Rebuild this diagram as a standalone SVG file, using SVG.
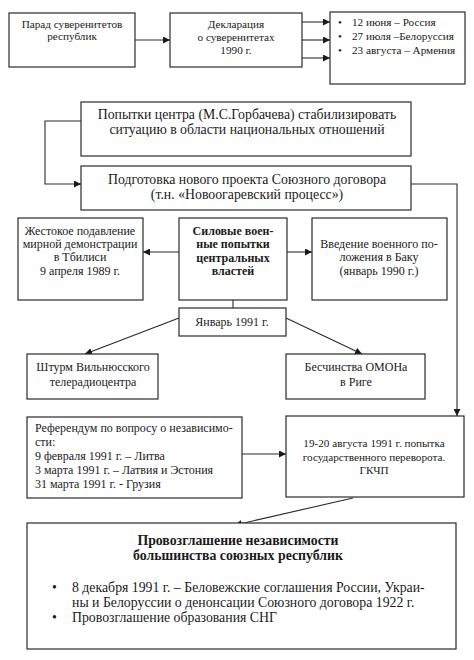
<svg xmlns="http://www.w3.org/2000/svg" width="474" height="660" viewBox="0 0 474 660" font-family="'Liberation Serif', 'Times New Roman', serif">
<defs>
<marker id="ah" viewBox="0 0 10 10" refX="10" refY="5" markerWidth="7" markerHeight="7" markerUnits="userSpaceOnUse" orient="auto">
<path d="M0,0 L10,5 L0,10 z" fill="#1a1a1a"/>
</marker>
<style>
.box{fill:#fff;stroke:#2a2a2a;stroke-width:1.2}
.t{font-family:'Liberation Serif','Times New Roman',serif;font-size:12px;fill:#1a1a1a}
.c{text-anchor:middle}
.b{font-weight:bold}
.s{font-size:11.2px}
.l{font-size:13.8px}
.con{fill:none;stroke:#2a2a2a;stroke-width:1.1}
</style>
</defs>
<rect width="474" height="660" fill="#fff"/>
<g id="connectors">
<line class="con" x1="135" y1="40" x2="170" y2="40" marker-end="url(#ah)"/>
<line class="con" x1="302" y1="22" x2="330" y2="22" marker-end="url(#ah)"/>
<line class="con" x1="302" y1="40" x2="330" y2="40" marker-end="url(#ah)"/>
<line class="con" x1="302" y1="58" x2="330" y2="58" marker-end="url(#ah)"/>
<polyline class="con" points="81,121 45,121 45,184 81,184" marker-end="url(#ah)"/>
<polyline class="con" points="411,184 457,184 457,416" marker-end="url(#ah)"/>
<line class="con" x1="179" y1="252" x2="143" y2="252" marker-end="url(#ah)"/>
<line class="con" x1="287" y1="252" x2="312" y2="252" marker-end="url(#ah)"/>
<line class="con" x1="233" y1="300" x2="233" y2="308"/>
<line class="con" x1="179" y1="318" x2="85" y2="354" marker-end="url(#ah)"/>
<line class="con" x1="286" y1="318" x2="362" y2="354" marker-end="url(#ah)"/>
<line class="con" x1="242" y1="454" x2="286" y2="454" marker-end="url(#ah)"/>
<line class="con" x1="353" y1="498" x2="235" y2="525" marker-end="url(#ah)"/>
</g>
<g id="parade">
<rect class="box" x="9" y="13" width="126" height="54"/>
<text class="t s c" x="72" y="28">Парад суверенитетов</text>
<text class="t s c" x="72" y="40">республик</text>
</g>
<g id="declaration">
<rect class="box" x="170" y="13" width="132" height="54"/>
<text class="t s c" x="236" y="28">Декларация</text>
<text class="t s c" x="236" y="41">о суверенитетах</text>
<text class="t s c" x="236" y="54">1990 г.</text>
</g>
<g id="dates">
<rect class="box" x="330" y="12" width="135" height="72"/>
<text class="t s" x="338" y="26">•</text><text class="t s" x="352" y="26">12 июня – Россия</text>
<text class="t s" x="338" y="40">•</text><text class="t s" x="352" y="40">27 июля –Белоруссия</text>
<text class="t s" x="338" y="54">•</text><text class="t s" x="352" y="54">23 августа – Армения</text>
</g>
<g id="attempts">
<rect class="box" x="81" y="102" width="330" height="54"/>
<text class="t c l" x="247" y="119">Попытки центра (М.С.Горбачева) стабилизировать</text>
<text class="t c l" x="247" y="134">ситуацию в области национальных отношений</text>
</g>
<g id="treaty">
<rect class="box" x="81" y="166" width="330" height="44"/>
<text class="t c l" x="247" y="184">Подготовка нового проекта Союзного договора</text>
<text class="t c l" x="247" y="199">(т.н. «Новоогаревский процесс»)</text>
</g>
<g id="tbilisi">
<rect class="box" x="18" y="218" width="125" height="82"/>
<text class="t c" x="80" y="235">Жестокое подавление</text>
<text class="t c" x="80" y="248">мирной демонстрации</text>
<text class="t c" x="80" y="261">в Тбилиси</text>
<text class="t c" x="80" y="275">9 апреля 1989 г.</text>
</g>
<g id="force">
<rect class="box" x="179" y="218" width="108" height="82"/>
<text class="t c b" x="233" y="235">Силовые воен-</text>
<text class="t c b" x="233" y="248">ные попытки</text>
<text class="t c b" x="233" y="262">центральных</text>
<text class="t c b" x="233" y="275">властей</text>
</g>
<g id="baku">
<rect class="box" x="312" y="218" width="135" height="82"/>
<text class="t c" x="379" y="248">Введение военного по-</text>
<text class="t c" x="379" y="261">ложения в Баку</text>
<text class="t c" x="379" y="275">(январь 1990 г.)</text>
</g>
<g id="jan1991">
<rect class="box" x="179" y="308" width="107" height="28"/>
<text class="t c" x="232" y="326">Январь 1991 г.</text>
</g>
<g id="vilnius">
<rect class="box" x="27" y="354" width="131" height="45"/>
<text class="t c" x="93" y="371">Штурм Вильнюсского</text>
<text class="t c" x="93" y="386">телерадиоцентра</text>
</g>
<g id="riga">
<rect class="box" x="286" y="354" width="139" height="45"/>
<text class="t c" x="356" y="371">Бесчинства ОМОНа</text>
<text class="t c" x="356" y="386">в Риге</text>
</g>
<g id="referendum">
<rect class="box" x="27" y="417" width="215" height="81"/>
<text class="t" x="35" y="432">Референдум по вопросу о независимо-</text>
<text class="t" x="35" y="446">сти:</text>
<text class="t" x="35" y="460">9 февраля 1991 г. – Литва</text>
<text class="t" x="35" y="474">3 марта 1991 г. – Латвия и Эстония</text>
<text class="t" x="35" y="488">31 марта 1991 г. - Грузия</text>
</g>
<g id="gkchp">
<rect class="box" x="286" y="416" width="178" height="81"/>
<text class="t s c" x="374" y="447">19-20 августа 1991 г. попытка</text>
<text class="t s c" x="374" y="461">государственного переворота.</text>
<text class="t s c" x="374" y="474">ГКЧП</text>
</g>
<g id="independence">
<rect class="box" x="27" y="523" width="429" height="126"/>
<text class="t c b l" x="238" y="545">Провозглашение независимости</text>
<text class="t c b l" x="238" y="560">большинства союзных республик</text>
<text class="t l" x="52" y="592">•</text><text class="t l" x="72" y="592">8 декабря 1991 г. – Беловежские соглашения России, Украи-</text>
<text class="t l" x="72" y="607">ны и Белоруссии о денонсации Союзного договора 1922 г.</text>
<text class="t l" x="52" y="622">•</text><text class="t l" x="72" y="622">Провозглашение образования СНГ</text>
</g>
</svg>
